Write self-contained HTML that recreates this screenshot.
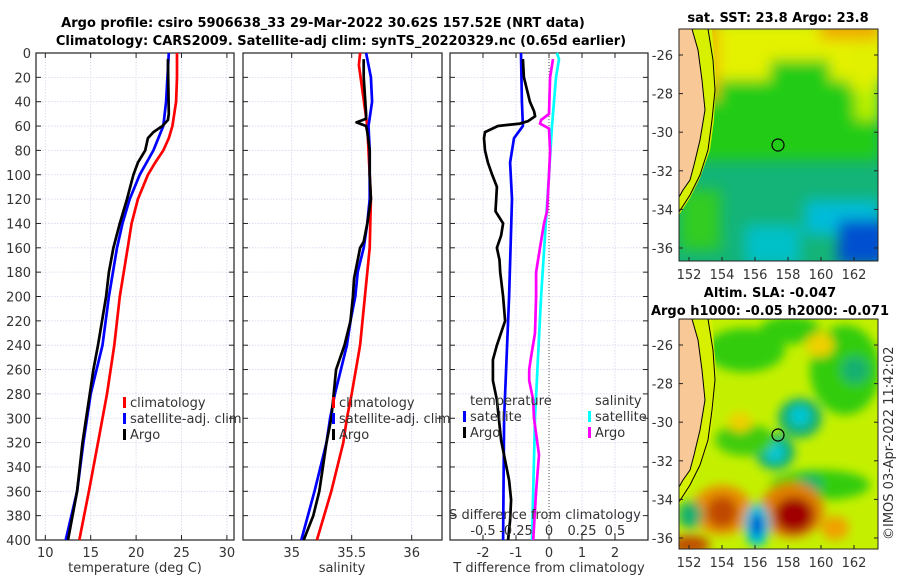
<!DOCTYPE html>
<html><head><meta charset="utf-8"><style>
body{margin:0;background:#fff;}
svg{display:block;font-family:"DejaVu Sans","Liberation Sans",sans-serif;}
</style></head><body>
<svg id="fig" width="900" height="580" viewBox="0 0 900 580">
<defs>
<filter id="bl" x="-20%" y="-20%" width="140%" height="140%"><feGaussianBlur stdDeviation="7"/></filter>
<filter id="bl2" x="-20%" y="-20%" width="140%" height="140%"><feGaussianBlur stdDeviation="5"/></filter>
<clipPath id="m1"><rect x="679" y="29" width="199" height="232"/></clipPath>
<clipPath id="m2"><rect x="679" y="319" width="199" height="230"/></clipPath>
</defs>
<g font-weight="bold" font-size="13" text-anchor="middle">
<text x="323" y="27">Argo profile: csiro 5906638_33 29-Mar-2022 30.62S 157.52E (NRT data)</text>
<text x="341" y="45">Climatology: CARS2009. Satellite-adj clim: synTS_20220329.nc (0.65d earlier)</text>
</g>
<g id="p1"></g>
<g id="p2"></g>
<g id="p3"></g>

<!-- top map -->
<g>
<text x="778" y="22" font-size="13" font-weight="bold" text-anchor="middle">sat. SST: 23.8 Argo: 23.8</text>
<g clip-path="url(#m1)">
<rect x="679" y="29" width="199" height="232" fill="#14b478"/>
<g filter="url(#bl)">
<rect x="670" y="20" width="220" height="60" fill="#e4f200"/>
<rect x="680" y="80" width="200" height="80" fill="#24cc12"/>
<rect x="850" y="20" width="30" height="70" fill="#e0f000"/>
<rect x="770" y="60" width="60" height="25" fill="#24cc12"/>
<rect x="855" y="90" width="25" height="30" fill="#b8f000"/>
<rect x="820" y="18" width="60" height="22" fill="#f0aa00"/>
<rect x="700" y="20" width="18" height="80" fill="#f0b400"/>
<rect x="680" y="190" width="40" height="60" fill="#30cc20"/>
<rect x="745" y="225" width="55" height="40" fill="#00c0c8"/>
<rect x="805" y="200" width="75" height="35" fill="#00bcd8"/>
<rect x="838" y="220" width="50" height="45" fill="#0050d0"/>
</g>
<polygon points="679,29 712,29 716,80 714,120 710,150 700,178 690,198 679,215" fill="#d6f000"/>
<polygon points="679,29 692,29 698,50 702,80 705,110 700,140 694,165 690,180 683,190 679,197" fill="#f8c896"/>
<polyline points="708,29 713,60 715,90 712,120 708,150 700,175 690,195 679,212" fill="none" stroke="#000" stroke-width="1"/>
<polyline points="692,29 698,50 702,80 705,110 700,140 694,165 690,180 683,190 679,197" fill="none" stroke="#000" stroke-width="1"/>
</g>
<rect x="679" y="29" width="199" height="232" fill="none" stroke="#222" stroke-width="1"/>
<circle cx="778" cy="145" r="6" fill="none" stroke="#000" stroke-width="1.2"/>
</g>

<!-- bottom map -->
<g>
<text x="770" y="297" font-size="13" font-weight="bold" text-anchor="middle">Altim. SLA: -0.047</text>
<text x="770" y="315" font-size="13" font-weight="bold" text-anchor="middle">Argo h1000: -0.05 h2000: -0.071</text>
<g clip-path="url(#m2)">
<rect x="679" y="319" width="199" height="232" fill="#c4f000"/>
<g filter="url(#bl2)">
<ellipse cx="745" cy="350" rx="40" ry="22" fill="#30cc10"/>
<ellipse cx="845" cy="370" rx="35" ry="45" fill="#30cc10"/>
<ellipse cx="855" cy="370" rx="14" ry="14" fill="#18b070"/>
<ellipse cx="790" cy="330" rx="30" ry="14" fill="#30cc10"/>
<ellipse cx="820" cy="345" rx="14" ry="12" fill="#f0d000"/>
<ellipse cx="800" cy="418" rx="22" ry="20" fill="#18b070"/>
<ellipse cx="800" cy="416" rx="10" ry="10" fill="#00c8d8"/>
<ellipse cx="775" cy="452" rx="20" ry="18" fill="#18b070"/>
<ellipse cx="775" cy="452" rx="9" ry="10" fill="#00c8d8"/>
<ellipse cx="745" cy="440" rx="30" ry="16" fill="#40cc10"/>
<ellipse cx="820" cy="485" rx="50" ry="15" fill="#30cc10"/>
<ellipse cx="810" cy="485" rx="12" ry="10" fill="#18b070"/>
<ellipse cx="740" cy="422" rx="12" ry="10" fill="#f0d000"/>
<ellipse cx="722" cy="510" rx="30" ry="25" fill="#e89000"/>
<ellipse cx="722" cy="512" rx="16" ry="16" fill="#c04800"/>
<ellipse cx="792" cy="510" rx="32" ry="28" fill="#e08000"/>
<ellipse cx="794" cy="515" rx="20" ry="18" fill="#a00000"/>
<ellipse cx="757" cy="525" rx="13" ry="22" fill="#00c8d8"/>
<ellipse cx="757" cy="525" rx="6" ry="12" fill="#0040d0"/>
<ellipse cx="690" cy="545" rx="20" ry="10" fill="#c05000"/>
<ellipse cx="835" cy="528" rx="14" ry="12" fill="#f0a000"/>
<ellipse cx="690" cy="515" rx="12" ry="14" fill="#18b070"/>
</g>
<polygon points="679,319 712,319 716,370 714,410 710,440 700,468 690,488 679,505" fill="#d6f000"/>
<polygon points="679,319 692,319 698,340 702,370 705,400 700,430 694,455 690,470 683,480 679,487" fill="#f8c896"/>
<polyline points="708,319 713,350 715,380 712,410 708,440 700,465 690,485 679,502" fill="none" stroke="#000" stroke-width="1"/>
<polyline points="692,319 698,340 702,370 705,400 700,430 694,455 690,470 683,480 679,487" fill="none" stroke="#000" stroke-width="1"/>
</g>
<rect x="679" y="319" width="199" height="230" fill="none" stroke="#222" stroke-width="1"/>
<circle cx="778" cy="435" r="6" fill="none" stroke="#000" stroke-width="1.2"/>
</g>
<g id="maps" font-size="13" fill="#333"></g>
<text transform="translate(893,540) rotate(-90)" font-size="13" fill="#333">©IMOS 03-Apr-2022 11:42:02</text>
</svg>
<script>
// ---- data ----
const depthTicks=[0,20,40,60,80,100,120,140,160,180,200,220,240,260,280,300,320,340,360,380,400];
const tTicks=[10,15,20,25,30];
const sTicks=[35,35.5,36];
const dTicks=[-2,-1,0,1,2];
const dsTicks=[-0.5,-0.25,0,0.25,0.5];

const climTDepth=[0,20,40,60,70,80,90,100,120,140,160,200,240,280,320,360,400];
const climT=[24.5,24.5,24.4,24.0,23.6,23.0,22.1,21.3,20.2,19.5,19.07,18.2,17.6,16.8,15.8,14.8,13.75];
const satTDepth=[0,40,60,80,100,120,140,160,200,240,280,320,360,400];
const satT=[23.6,23.3,23.0,21.9,20.4,19.3,18.5,17.9,17.0,16.3,15.0,14.2,13.5,12.25];
const argoTDepth=[5,50,55,60,65,70,80,90,100,120,140,160,180,200,240,260,280,320,360,400];
const argoT=[23.5,23.6,23.5,22.9,21.9,21.3,21.0,20.2,19.7,19.0,18.2,17.5,17.0,16.7,15.8,15.3,14.9,14.1,13.5,12.5];

const climSDepth=[0,10,60,80,120,160,200,240,280,300,320,360,400];
const climS=[35.57,35.56,35.63,35.64,35.66,35.65,35.61,35.57,35.5,35.46,35.43,35.33,35.21];
const satSDepth=[0,20,40,60,80,100,120,140,160,180,200,220,240,260,280,300,320,360,400];
const satS=[35.62,35.66,35.67,35.64,35.65,35.65,35.65,35.63,35.6,35.55,35.53,35.49,35.46,35.41,35.36,35.32,35.29,35.19,35.08];
const argoSDepth=[5,20,50,54,57,60,65,80,100,120,140,155,160,170,185,200,220,240,260,280,300,320,340,360,380,400];
const argoS=[35.6,35.6,35.62,35.62,35.54,35.62,35.63,35.65,35.65,35.66,35.63,35.6,35.57,35.55,35.52,35.51,35.49,35.44,35.37,35.35,35.33,35.29,35.26,35.23,35.18,35.1];

const satDTDepth=[0,40,60,70,90,120,200,300,400];
const satDT=[-0.85,-0.82,-0.79,-1.06,-1.18,-1.12,-1.21,-1.36,-1.39];
const argoDTDepth=[5,20,40,48,52,56,58,60,65,70,80,90,100,110,120,130,140,150,160,170,180,200,220,240,252,269,285,318,351,367,384,400];
const argoDT=[-0.79,-0.76,-0.58,-0.45,-0.42,-0.64,-0.88,-1.55,-1.94,-1.97,-1.94,-1.85,-1.72,-1.58,-1.6,-1.62,-1.39,-1.45,-1.58,-1.5,-1.48,-1.39,-1.33,-1.58,-1.7,-1.7,-1.58,-1.45,-1.21,-1.15,-1.18,-1.24];
const satDSDepth=[0,5,20,60,100,150,200,250,300,400];
const satDS=[0.06,0.076,0.053,0.023,0,-0.03,-0.06,-0.083,-0.106,-0.129];
const argoDSDepth=[5,20,50,55,58,62,80,100,130,140,160,180,200,230,250,260,269,285,300,330,360,400];
const argoDS=[0.03,0.008,0,-0.06,-0.068,0,0.008,0,-0.015,-0.038,-0.068,-0.098,-0.098,-0.106,-0.136,-0.15,-0.15,-0.12,-0.114,-0.076,-0.098,-0.12];

const latTicks=[-26,-28,-30,-32,-34,-36];
const lonTicks=[152,154,156,158,160,162];

// ---- axes ----
const NS='http://www.w3.org/2000/svg';
const yD=d=>53+d*487/400;
const xT=t=>45.3+(t-10)*9.08;
const xS=s=>291.7+(s-35)*120;
const xD=v=>549+v*33;
const xDS=s=>549+s*132;
function mk(tag,attrs,parent){const e=document.createElementNS(NS,tag);for(const k in attrs)e.setAttribute(k,attrs[k]);parent.appendChild(e);return e;}
function txt(parent,x,y,s,anchor,size){const t=mk('text',{x:x,y:y,'text-anchor':anchor||'middle','font-size':size||13,fill:'#333'},parent);t.textContent=s;return t;}

function panel(g,x0,x1,xt,xf){
  for(const d of depthTicks){const y=yD(d);
    const l=mk('line',{x1:x0,x2:x1,y1:y,y2:y,stroke:'#d2d6ee','stroke-width':0.8,'stroke-dasharray':'1.5,1.5'},g);
    
    
    mk('line',{x1:x0,x2:x0+5,y1:y,y2:y,stroke:'#222'},g);
    mk('line',{x1:x1-5,x2:x1,y1:y,y2:y,stroke:'#222'},g);
  }
  for(const v of xt){const x=xf(v);
    const l=mk('line',{x1:x,x2:x,y1:53,y2:540,stroke:'#d2d6ee','stroke-width':0.8,'stroke-dasharray':'1.5,1.5'},g);
    
    
    mk('line',{x1:x,x2:x,y1:53,y2:58,stroke:'#222'},g);
    mk('line',{x1:x,x2:x,y1:535,y2:540,stroke:'#222'},g);
    const t=txt(g,x,557,String(v));
    
    
  }
  const r=mk('rect',{x:x0,y:53,width:x1-x0,height:487,fill:'none',stroke:'#222','stroke-width':1.2},g);
  
  
}
function line(g,ds,vs,xf,col,name,w){
  const pts=ds.map((d,i)=>xf(vs[i]).toFixed(1)+','+yD(d).toFixed(1)).join(' ');
  const p=mk('polyline',{points:pts,fill:'none',stroke:col,'stroke-width':w||2.7,'stroke-linejoin':'round'},g);
  
  
}
function legend(g,x,y,items){
  items.forEach((it,i)=>{
    const yy=y+i*16;
    const m=mk('rect',{x:x,y:yy-10,width:3,height:11,fill:it[1]},g);
    
    
    const t=txt(g,x+7,yy,it[0],'start');
    
    
  });
}

const p1=document.getElementById('p1'),p2=document.getElementById('p2'),p3=document.getElementById('p3');
panel(p1,36,234,tTicks,xT);
for(const d of depthTicks){const t=txt(p1,31,yD(d)+5,String(d),'end');
  
  }
line(p1,climTDepth,climT,xT,'#ff0000','clim-temperature-line');
line(p1,satTDepth,satT,xT,'#0000ff','sat-temperature-line');
line(p1,argoTDepth,argoT,xT,'#000','argo-temperature-line');
legend(p1,123,407,[['climatology','#ff0000'],['satellite-adj. clim','#0000ff'],['Argo','#000']]);
const a1=txt(p1,135,572,'temperature (deg C)');



panel(p2,243,442,sTicks,xS);
line(p2,climSDepth,climS,xS,'#ff0000','clim-salinity-line');
line(p2,satSDepth,satS,xS,'#0000ff','sat-salinity-line');
line(p2,argoSDepth,argoS,xS,'#000','argo-salinity-line');
legend(p2,332,407,[['climatology','#ff0000'],['satellite-adj. clim','#0000ff'],['Argo','#000']]);
const a2=txt(p2,342,572,'salinity');



panel(p3,450,648,dTicks,xD);
mk('line',{x1:549,x2:549,y1:53,y2:540,stroke:'#554',"stroke-width":1,"stroke-dasharray":"1,2"},p3);
line(p3,satDSDepth,satDS,xDS,'#00ffff','sat-salinity-diff-line');
line(p3,argoDSDepth,argoDS,xDS,'#ff00ff','argo-salinity-diff-line');
line(p3,satDTDepth,satDT,xD,'#0000ff','sat-temperature-diff-line');
line(p3,argoDTDepth,argoDT,xD,'#000','argo-temperature-diff-line');
const lt=txt(p3,470,405,'temperature','start');


const ls=txt(p3,595,405,'salinity','start');


legend(p3,463,421,[['satellite','#0000ff'],['Argo','#000']]);
legend(p3,588,421,[['satellite','#00ffff'],['Argo','#ff00ff']]);
const st=txt(p3,545,519,'S difference from climatology');


for(const v of dsTicks){const t=txt(p3,xDS(v),535,String(v));
  
  }
const a3=txt(p3,549,572,'T difference from climatology');



// map ticks
const mg=document.getElementById('maps');
const lonX=l=>689+(l-152)*16.5;
function mapTicks(bot,lat26y){
  for(const la of latTicks){const y=lat26y+(-26-la)*19.3;
    mk('line',{x1:679,x2:683,y1:y,y2:y,stroke:'#222'},mg);
    mk('line',{x1:874,x2:878,y1:y,y2:y,stroke:'#222'},mg);
    const t=txt(mg,673,y+5,String(la),'end');
    
    }
  for(const lo of lonTicks){const x=lonX(lo);
    mk('line',{x1:x,x2:x,y1:bot-4,y2:bot,stroke:'#222'},mg);
    const t=txt(mg,x,bot+18,String(lo));
    
    }
}
mapTicks(261,55);
mapTicks(549,345);
</script>
</body></html>
